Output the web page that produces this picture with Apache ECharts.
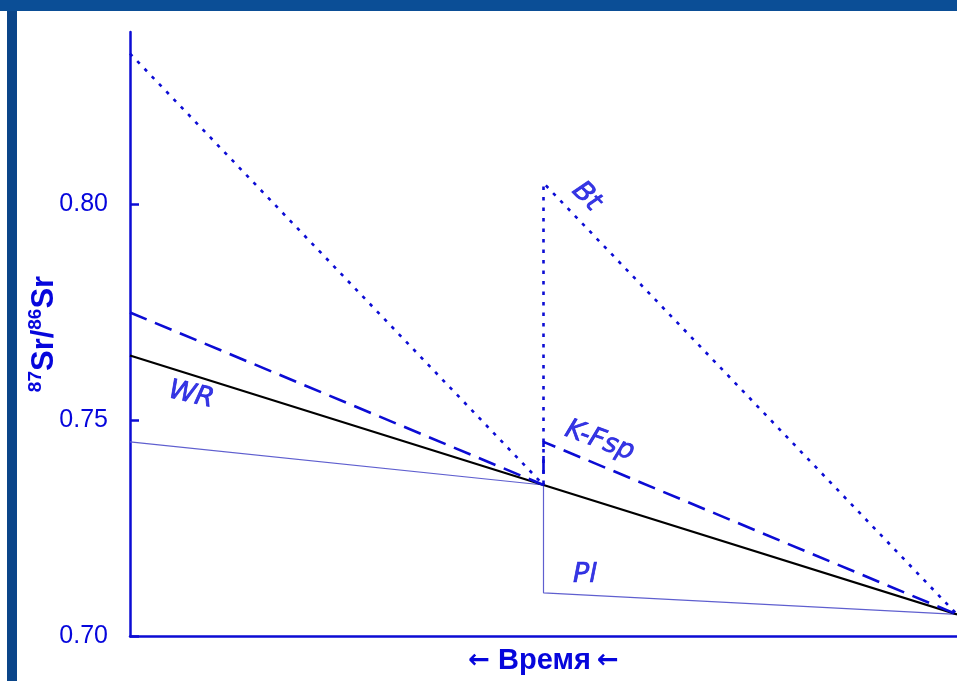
<!DOCTYPE html>
<html>
<head>
<meta charset="utf-8">
<title>87Sr/86Sr</title>
<script src="https://cdn.jsdelivr.net/npm/echarts@6/dist/echarts.min.js"></script>
<style>
  html, body { margin: 0; padding: 0; background: #ffffff; }
  #chart { width: 957px; height: 681px; }
</style>
</head>
<body>
<div id="chart"></div>
<script>
// время (0 - слева, 1 - справа), точка 0.5 - метаморфизм
const times = [0, 0.5, 0.5, 1];
const wrValues = [0.765, 0.735, 0.735, 0.705];
const kfspValues = [0.775, 0.735, 0.745, 0.705];
const btValues = [0.835, 0.735, 0.805, 0.705];
const plValues = [0.745, 0.735, 0.710, 0.705];
const yTicks = [0.70, 0.75, 0.80];

// подписи линий
const labelNames = ['WR', 'K-Fsp', 'Bt', 'Pl'];
const labelX = [0.074, 0.568, 0.552, 0.550];
const labelY = [0.7558, 0.7452, 0.8018, 0.7141];
const labelRotate = [-13, -20, -45, 0];

const blue = '#0c0cd4';
const textBlue = '#0606dc';

function pairs(ys) {
  return times.map((t, i) => [t, ys[i]]);
}

let myChart = echarts.init(document.getElementById('chart'));
let option = {
  animation: false,
  backgroundColor: '#ffffff',
  graphic: [
    { type: 'rect', shape: { x: 0, y: 0, width: 957, height: 11 }, style: { fill: '#0b4e96' }, z: -1 },
    { type: 'rect', shape: { x: 7, y: 11, width: 10, height: 670 }, style: { fill: '#0a4589' }, z: -1 }
  ],
  grid: { left: 130, right: 0, top: 32, bottom: 45 },
  xAxis: {
    type: 'value',
    min: 0,
    max: 1,
    name: '{a|←}{b|Время}{a|←}',
    nameLocation: 'middle',
    nameGap: 9,
    nameTextStyle: {
      verticalAlign: 'top',
      rich: {
        a: { color: textBlue, fontSize: 26, fontWeight: 'bold', fontFamily: 'DejaVu Sans', lineHeight: 32 },
        b: { color: textBlue, fontSize: 29, fontWeight: 'bold', fontFamily: 'Liberation Sans', lineHeight: 32, padding: [0, 6, 0, 8] }
      }
    },
    axisLine: { lineStyle: { color: blue, width: 2.5 } },
    axisTick: { show: false },
    axisLabel: { show: false },
    splitLine: { show: false }
  },
  yAxis: {
    type: 'value',
    min: 0.70,
    max: 0.84,
    interval: 0.05,
    name: '{sup|87}{b|Sr/}{sup|86}{b|Sr}',
    nameLocation: 'middle',
    nameRotate: 90,
    nameGap: 70,
    nameMoveOverlap: false,
    nameTextStyle: {
      rich: {
        b: { color: textBlue, fontSize: 31, fontWeight: 'bold', fontFamily: 'Liberation Sans', lineHeight: 34, verticalAlign: 'bottom' },
        sup: { color: textBlue, fontSize: 19, fontWeight: 'bold', fontFamily: 'Liberation Sans', lineHeight: 30, verticalAlign: 'top' }
      }
    },
    axisLine: { show: true, lineStyle: { color: blue, width: 2.5 } },
    axisTick: { show: true, inside: true, length: 9, customValues: yTicks, lineStyle: { color: blue, width: 2.5 } },
    axisLabel: {
      customValues: yTicks,
      margin: 22,
      color: textBlue,
      fontSize: 25,
      fontFamily: 'Liberation Sans',
      formatter: v => v.toFixed(2)
    },
    splitLine: { show: false }
  },
  series: [
    {
      name: 'Pl', type: 'line', data: pairs(plValues), showSymbol: false, z: 1,
      lineStyle: { color: '#5f5fcf', width: 1.2 }
    },
    {
      name: 'WR', type: 'line', data: pairs(wrValues), showSymbol: false, z: 2,
      lineStyle: { color: '#000000', width: 2.2 }
    },
    {
      name: 'K-Fsp', type: 'line', data: pairs(kfspValues), showSymbol: false, z: 3,
      lineStyle: { color: blue, width: 2.6, type: [18, 9] }
    },
    {
      name: 'Bt', type: 'line', data: pairs(btValues), showSymbol: false, z: 4,
      lineStyle: { color: blue, width: 2.6, type: [3.5, 7] }
    },
    {
      name: 'labels', type: 'scatter', symbolSize: 0, z: 5,
      data: labelNames.map((n, i) => ({
        name: n,
        value: [labelX[i], labelY[i]],
        label: { rotate: labelRotate[i] }
      })),
      label: {
        show: true,
        position: 'inside',
        formatter: p => p.name,
        color: textBlue,
        textBorderColor: textBlue,
        textBorderWidth: 0.7,
        fontSize: 27,
        fontStyle: 'italic',
        fontFamily: 'DejaVu Sans'
      }
    }
  ]
};
myChart.setOption(option);
</script>
</body>
</html>
